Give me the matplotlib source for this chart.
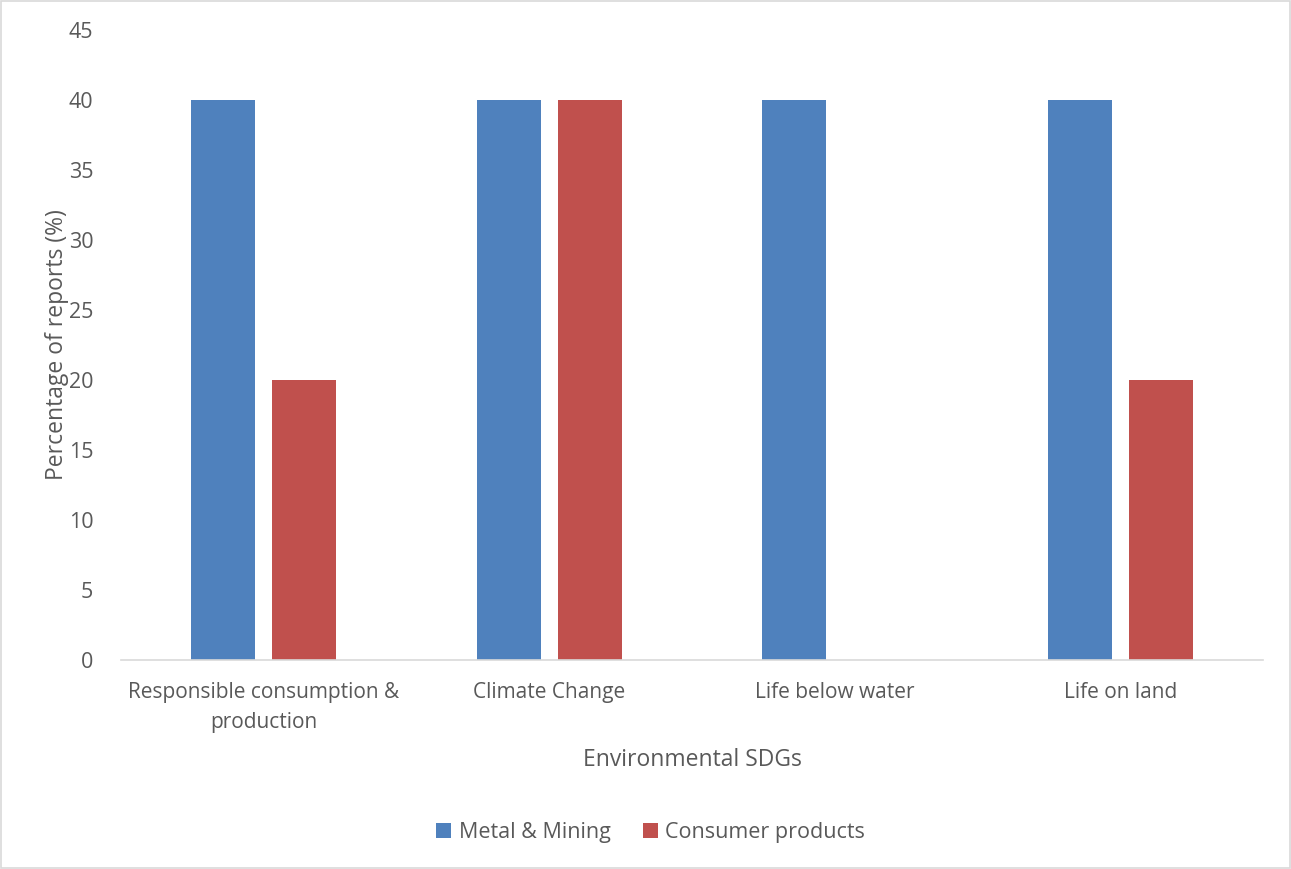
import numpy as np
import matplotlib.pyplot as plt
from matplotlib.patches import Rectangle

categories = ["Responsible consumption &\nproduction", "Climate Change",
              "Life below water", "Life on land"]
metal_mining = [40, 40, 40, 40]
consumer_products = [20, 40, 0, 20]

plt.rcParams['font.family'] = ['Open Sans', 'DejaVu Sans']
text_color = "#595959"

fig = plt.figure(figsize=(12.91, 8.69), dpi=100)
ax = fig.add_axes([0.0937, 0.2405, 0.8846, 0.725])

x = np.arange(len(categories))
width = 0.224
ax.bar(x - 0.142, metal_mining, width, color="#4F81BD", label="Metal & Mining")
ax.bar(x + 0.142, consumer_products, width, color="#C0504D", label="Consumer products")

ax.set_xlim(-0.5, len(categories) - 0.5)
ax.set_ylim(0, 45)
ax.set_yticks(np.arange(0, 46, 5))
ax.set_xticks(x, categories)
ax.tick_params(axis="both", length=0, labelsize=15.5, colors=text_color)
ax.tick_params(axis="x", labelsize=15, pad=16)
ax.tick_params(axis="y", pad=20)
for lbl in ax.get_xticklabels():
    lbl.set_linespacing(1.55)

for side in ["top", "right", "left"]:
    ax.spines[side].set_visible(False)
ax.spines["bottom"].set_color("#D9D9D9")
ax.spines["bottom"].set_linewidth(1.2)

ax.set_ylabel("Percentage of reports (%)", fontsize=16.5, color=text_color, labelpad=0)
fig.text(0.5365, 0.125, "Environmental SDGs", ha="center", va="center",
         fontsize=16.5, color=text_color)

fig.legend(loc="center", bbox_to_anchor=(0.504, 0.042), ncol=2, frameon=False,
           fontsize=15.5, labelcolor=text_color, handlelength=0.7, handleheight=0.7,
           columnspacing=1.5, handletextpad=0.35)

# chart border
fig.patches.append(Rectangle((0.001, 0.001), 0.998, 0.998, transform=fig.transFigure,
                             fill=False, edgecolor="#D9D9D9", linewidth=1.2))

fig.savefig("out.png", dpi=100)
